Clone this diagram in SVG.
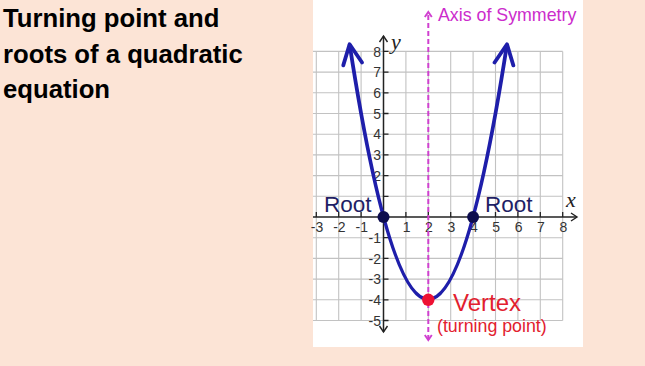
<svg xmlns="http://www.w3.org/2000/svg" width="645" height="366" viewBox="0 0 645 366">
<defs>
<style>
.title{font-family:"Liberation Sans",Arial,sans-serif;font-weight:bold;font-size:25.7px;fill:#000}
.grid line{stroke:#c2c2c2;stroke-width:1.1}
.axis{stroke:#222;stroke-width:1.5;fill:none}
.tick{stroke:#222;stroke-width:1.3}
.num{font-family:"Liberation Sans",Arial,sans-serif;font-size:14px;fill:#333}
.xnum{text-anchor:middle}
.ynum{text-anchor:end}
.var{font-family:"Liberation Serif","Times New Roman",serif;font-style:italic;font-size:22px;fill:#222}
.root{font-family:"Liberation Sans",Arial,sans-serif;font-size:22.5px;fill:#1f1f66}
.red{font-family:"Liberation Sans",Arial,sans-serif;fill:#e2202e}
.sym{font-family:"Liberation Sans",Arial,sans-serif;font-size:17.8px;fill:#cc2ccc}
</style>
<marker id="chev" markerUnits="userSpaceOnUse" viewBox="-24 -13 28 26" refX="0" refY="0" markerWidth="28" markerHeight="26" orient="auto-start-reverse" overflow="visible">
<path d="M-20,-9.5 L0,0 L-20,9.5" fill="none" stroke="#1e1eaa" stroke-width="3.8" stroke-linecap="round" stroke-linejoin="round"/>
</marker>
<marker id="ax" markerUnits="userSpaceOnUse" viewBox="-10 -6 12 12" refX="0" refY="0" markerWidth="12" markerHeight="12" orient="auto-start-reverse" overflow="visible">
<path d="M-6,-4 L0,0 L-6,4" fill="none" stroke="#222" stroke-width="1.4"/>
</marker>
<marker id="sm" markerUnits="userSpaceOnUse" viewBox="-8 -6 10 12" refX="0" refY="0" markerWidth="10" markerHeight="12" orient="auto-start-reverse" overflow="visible">
<path d="M-5,-3.5 L0,0 L-5,3.5" fill="none" stroke="#d040d0" stroke-width="1.9"/>
</marker>
</defs>
<rect x="0" y="0" width="645" height="366" fill="#fce4d6"/>
<g id="title">
<text class="title" x="3" y="27">Turning point and</text>
<text class="title" x="3" y="63">roots of a quadratic</text>
<text class="title" x="3" y="98">equation</text>
</g>
<g id="graph">
<rect x="313" y="0" width="270" height="347" fill="#ffffff"/>
<g class="grid">
<line x1="316.3" y1="51.4" x2="316.3" y2="320.5"/>
<line x1="338.7" y1="51.4" x2="338.7" y2="320.5"/>
<line x1="361.1" y1="51.4" x2="361.1" y2="320.5"/>
<line x1="405.9" y1="51.4" x2="405.9" y2="320.5"/>
<line x1="428.3" y1="51.4" x2="428.3" y2="320.5"/>
<line x1="450.7" y1="51.4" x2="450.7" y2="320.5"/>
<line x1="473.1" y1="51.4" x2="473.1" y2="320.5"/>
<line x1="495.5" y1="51.4" x2="495.5" y2="320.5"/>
<line x1="517.9" y1="51.4" x2="517.9" y2="320.5"/>
<line x1="540.3" y1="51.4" x2="540.3" y2="320.5"/>
<line x1="562.7" y1="51.4" x2="562.7" y2="320.5"/>
<line x1="313" y1="51.4" x2="562.7" y2="51.4"/>
<line x1="313" y1="72.1" x2="562.7" y2="72.1"/>
<line x1="313" y1="92.8" x2="562.7" y2="92.8"/>
<line x1="313" y1="113.5" x2="562.7" y2="113.5"/>
<line x1="313" y1="134.2" x2="562.7" y2="134.2"/>
<line x1="313" y1="154.9" x2="562.7" y2="154.9"/>
<line x1="313" y1="175.6" x2="562.7" y2="175.6"/>
<line x1="313" y1="196.3" x2="562.7" y2="196.3"/>
<line x1="313" y1="237.7" x2="562.7" y2="237.7"/>
<line x1="313" y1="258.4" x2="562.7" y2="258.4"/>
<line x1="313" y1="279.1" x2="562.7" y2="279.1"/>
<line x1="313" y1="299.8" x2="562.7" y2="299.8"/>
<line x1="313" y1="320.5" x2="562.7" y2="320.5"/>
</g>
<g id="axes">
<line class="axis" x1="313" y1="217" x2="577" y2="217" marker-end="url(#ax)"/>
<line class="axis" x1="383.5" y1="332" x2="383.5" y2="36" marker-start="url(#ax)" marker-end="url(#ax)"/>
<path class="tick" d="M316.3,217v-5M338.7,217v-5M361.1,217v-5M405.9,217v-5M428.3,217v-5M450.7,217v-5M473.1,217v-5M495.5,217v-5M517.9,217v-5M540.3,217v-5M562.7,217v-5"/>
<path class="tick" d="M383.5,51.4h5M383.5,72.1h5M383.5,92.8h5M383.5,113.5h5M383.5,134.2h5M383.5,154.9h5M383.5,175.6h5M383.5,196.3h5M383.5,237.7h5M383.5,258.4h5M383.5,279.1h5M383.5,299.8h5M383.5,320.5h5"/>
<g class="num xnum">
<text x="317" y="232">-3</text>
<text x="339.4" y="232">-2</text>
<text x="361.8" y="232">-1</text>
<text x="406.6" y="232">1</text>
<text x="429" y="232">2</text>
<text x="451.4" y="232">3</text>
<text x="473.8" y="232">4</text>
<text x="496.2" y="232">5</text>
<text x="518.6" y="232">6</text>
<text x="541" y="232">7</text>
<text x="563.4" y="232">8</text>
</g>
<g class="num ynum">
<text x="381" y="56.5">8</text>
<text x="381" y="77.2">7</text>
<text x="381" y="97.9">6</text>
<text x="381" y="118.6">5</text>
<text x="381" y="139.3">4</text>
<text x="381" y="160">3</text>
<text x="381" y="180.7">2</text>
<text x="381" y="242.8">-1</text>
<text x="381" y="263.5">-2</text>
<text x="381" y="284.2">-3</text>
<text x="381" y="304.9">-4</text>
<text x="381" y="325.6">-5</text>
</g>
<text class="var" x="391" y="49">y</text>
<text class="var" x="566" y="207">x</text>
</g>
<g id="axis-of-symmetry">
<line x1="428.3" y1="340" x2="428.3" y2="12" stroke="#d040d0" stroke-width="2" stroke-dasharray="5,3" marker-start="url(#sm)" marker-end="url(#sm)"/>
<text class="sym" x="438" y="21">Axis of Symmetry</text>
</g>
<g id="parabola">
<path d="M349.6,44.2 Q428.3,554.6 507,44.2" fill="none" stroke="#1e1eaa" stroke-width="3.8" marker-start="url(#chev)" marker-end="url(#chev)"/>
</g>
<g id="root-left">
<circle cx="383.5" cy="217" r="6" fill="#0c0c4e"/>
<text class="root" x="324" y="212">Root</text>
</g>
<g id="root-right">
<circle cx="473.1" cy="217" r="6" fill="#0c0c4e"/>
<text class="root" x="485" y="212">Root</text>
</g>
<g id="vertex">
<circle cx="428.3" cy="299.8" r="6.2" fill="#ee1133"/>
<text class="red" x="453" y="310.5" font-size="24">Vertex</text>
<text class="red" x="437" y="331.5" font-size="17.8">(turning point)</text>
</g>
</g>
</svg>
